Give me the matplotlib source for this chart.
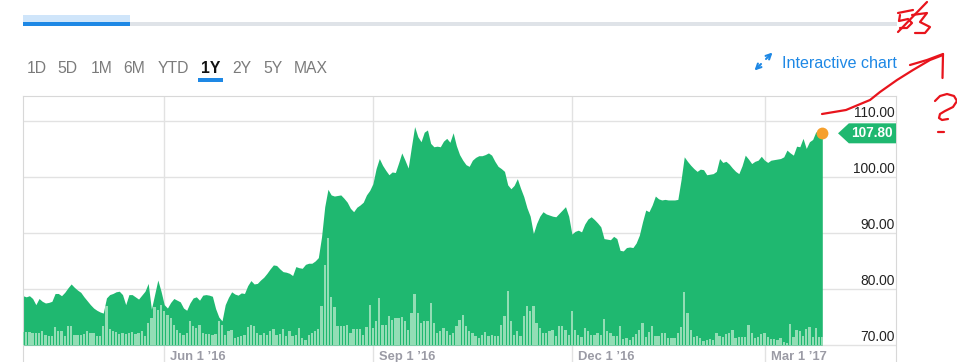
import matplotlib
matplotlib.use("Agg")
import matplotlib.pyplot as plt
from matplotlib.patches import Polygon, Rectangle, FancyArrowPatch
from matplotlib.lines import Line2D
from matplotlib.transforms import blended_transform_factory, ScaledTranslation

# daily close, one value per trading day (Mar 2016 -> Mar 2017)
price = [
    78.8, 78.6, 78.8, 78.3, 77.2, 78.3, 77.8, 77.5, 77.6, 77.8,
    79.2, 79.2, 78.8, 79.4, 80.2, 80.9, 80.3, 79.8, 79.4, 78.6,
    77.9, 77.2, 76.6, 76.2, 75.9, 75.7, 78.4, 79.0, 79.2, 79.5,
    79.6, 79.0, 77.2, 79.0, 79.0, 78.6, 78.2, 78.9, 79.6, 81.0,
    76.4, 79.0, 81.6, 79.6, 77.2, 76.6, 77.6, 78.3, 78.0, 77.7,
    76.6, 76.2, 77.5, 78.4, 78.6, 78.0, 78.9, 79.0, 78.9, 78.7,
    76.5, 75.0, 74.3, 77.2, 78.5, 79.5, 79.1, 78.9, 79.3, 79.2,
    80.6, 81.5, 80.9, 81.0, 81.6, 82.1, 82.8, 83.6, 84.3, 84.2,
    83.6, 83.1, 83.0, 82.8, 82.4, 84.0, 83.8, 83.7, 84.4, 84.6,
    84.6, 85.0, 85.6, 89.3, 94.7, 97.8, 96.8, 96.6, 96.7, 96.8,
    96.2, 95.5, 94.4, 93.8, 94.6, 95.0, 95.5, 96.8, 97.6, 98.8,
    101.5, 103.3, 102.1, 101.2, 100.4, 100.9, 100.8, 102.5, 104.3, 103.0,
    101.6, 105.4, 109.0, 107.2, 106.3, 108.0, 108.4, 106.0, 105.4, 105.5,
    105.4, 106.4, 106.9, 106.2, 107.9, 105.6, 104.0, 103.0, 102.2, 101.9,
    103.0, 103.5, 103.8, 103.8, 104.0, 104.3, 103.9, 102.8, 101.9, 101.5,
    101.0, 98.6, 97.9, 98.5, 99.7, 98.0, 96.5, 94.5, 93.0, 89.9,
    91.7, 93.0, 93.8, 93.4, 93.2, 93.0, 92.9, 93.5, 94.1, 94.7,
    93.0, 89.8, 90.3, 90.5, 90.2, 91.6, 92.5, 92.9, 92.4, 91.8,
    91.1, 89.0, 88.9, 88.8, 89.4, 89.0, 86.9, 86.8, 87.4, 87.5,
    87.4, 88.2, 89.6, 92.0, 94.1, 93.8, 95.0, 96.6, 96.1, 95.9,
    96.0, 95.9, 95.9, 95.9, 96.0, 99.5, 103.6, 102.8, 102.1, 101.5,
    101.0, 101.4, 101.3, 100.4, 100.5, 100.6, 101.0, 103.3, 102.6, 102.8,
    102.3, 101.6, 101.0, 100.6, 102.0, 103.9, 103.2, 102.4, 102.8, 103.0,
    103.7, 103.0, 102.6, 103.0, 103.1, 103.2, 103.3, 103.6, 104.8, 104.3,
    103.9, 105.5, 105.4, 106.9, 105.1, 106.3, 106.7, 108.1, 107.5, 107.8,
]

# daily volume, millions of shares
volume_m = [
    1.27, 1.27, 1.27, 1.20, 1.20, 1.20, 1.37, 1.00, 0.90, 0.90,
    1.77, 1.45, 1.40, 0.87, 1.93, 1.93, 1.00, 1.00, 1.05, 1.10,
    1.37, 1.20, 1.20, 0.93, 0.93, 1.87, 3.93, 1.60, 1.37, 1.30,
    1.10, 1.25, 1.10, 1.25, 1.30, 1.15, 1.20, 1.37, 0.87, 2.20,
    2.70, 3.80, 3.50, 4.00, 3.40, 3.00, 2.70, 2.00, 1.50, 1.20,
    1.00, 1.20, 2.40, 1.90, 1.70, 2.00, 1.20, 1.10, 1.10, 1.05,
    1.10, 2.40, 2.00, 1.00, 1.37, 1.47, 0.70, 0.80, 0.87, 1.00,
    1.80, 2.00, 1.87, 1.20, 1.00, 1.20, 1.00, 1.37, 1.60, 1.00,
    1.10, 1.60, 0.87, 1.37, 0.87, 1.00, 1.70, 0.70, 0.53, 1.00,
    1.20, 1.37, 1.60, 3.90, 8.00, 10.70, 4.80, 3.80, 1.90, 1.90,
    1.90, 2.00, 1.20, 1.60, 1.60, 1.60, 1.00, 1.80, 4.00, 1.70,
    2.40, 4.70, 2.00, 2.00, 2.90, 2.50, 2.70, 2.70, 2.80, 2.40,
    1.50, 3.20, 5.10, 3.20, 2.20, 2.40, 2.40, 4.20, 2.20, 1.20,
    1.40, 1.70, 1.40, 1.00, 1.20, 1.90, 2.50, 3.00, 1.90, 1.40,
    1.20, 0.90, 0.70, 1.00, 1.30, 0.90, 1.00, 0.90, 0.90, 2.00,
    2.90, 5.40, 2.40, 1.00, 1.40, 0.90, 2.90, 3.90, 3.40, 3.90,
    2.20, 1.70, 1.20, 1.20, 1.40, 1.50, 0.90, 1.90, 1.90, 1.50,
    1.00, 3.40, 1.50, 1.00, 0.80, 1.70, 1.40, 1.00, 1.00, 1.20,
    1.00, 2.60, 1.40, 1.20, 0.90, 0.90, 1.90, 0.60, 0.70, 0.50,
    0.80, 1.10, 1.50, 2.20, 0.80, 1.30, 1.90, 0.90, 0.90, 1.20,
    1.20, 0.70, 0.70, 0.70, 1.20, 1.80, 5.30, 3.20, 1.50, 0.80,
    0.90, 0.70, 0.40, 0.50, 0.60, 0.50, 1.20, 0.90, 0.80, 1.10,
    1.20, 1.50, 0.70, 0.80, 0.80, 0.80, 2.00, 1.20, 0.70, 0.80,
    1.10, 1.20, 0.80, 0.60, 0.60, 0.50, 0.70, 0.30, 0.20, 2.10,
    0.80, 1.50, 1.40, 0.90, 1.60, 1.80, 0.80, 1.70, 0.80, 0.80,
]

tick_days = [44, 109, 171, 231]
tick_labels = ["Jun 1 \u201916", "Sep 1 \u201916", "Dec 1 \u201916", "Mar 1 \u201917"]
price_levels = [70, 80, 90, 100, 110]
ranges = ["1D", "5D", "1M", "6M", "YTD", "1Y", "2Y", "5Y", "MAX"]
selected = "1Y"

W, H = 957, 362
GREEN = "#1fb870"
BAR = "#93ddb5"
BLUE = "#1e88e5"
RED = "#e8141c"

plt.rcParams["font.family"] = ["Liberation Sans", "DejaVu Sans"]
fig = plt.figure(figsize=(W / 100, H / 100), dpi=100)

def fx(px):
    return px / W

def fy(py):
    return 1 - py / H

# ---- header: progress bar, range buttons, link ----
fig.add_artist(Rectangle((fx(23), fy(25.7)), fx(897) - fx(23), 3.4 / H,
                         transform=fig.transFigure, color="#dfe3e8", lw=0))
fig.add_artist(Rectangle((fx(23), fy(22.3)), fx(130) - fx(23), 7.3 / H,
                         transform=fig.transFigure, color="#cfe5fa", lw=0))
fig.add_artist(Rectangle((fx(23), fy(25.7)), fx(130) - fx(23), 3.4 / H,
                         transform=fig.transFigure, color=BLUE, lw=0))

range_x = [26.5, 57.5, 90.5, 123.5, 157.5, 201, 232, 263.5, 294]
for lab, x in zip(ranges, range_x):
    if lab == selected:
        fig.text(fx(x), fy(72.7), lab, fontsize=11.3, fontweight="bold",
                 color="#111111", va="baseline")
    else:
        fig.text(fx(x), fy(72.7), lab, fontsize=11.3, color="#7b7b7b", va="baseline")
fig.add_artist(Rectangle((fx(198), fy(81.7)), fx(223) - fx(198), 3.4 / H,
                         transform=fig.transFigure, color=BLUE, lw=0))

fig.text(fx(781.5), fy(68.3), "Interactive chart", fontsize=11.6, color=BLUE,
         va="baseline")
for a, b in [((761, 64), (754.5, 70.5)), ((766, 59), (772.5, 52.5))]:
    fig.add_artist(FancyArrowPatch((fx(a[0]), fy(a[1])), (fx(b[0]), fy(b[1])),
                                   transform=fig.transFigure, arrowstyle="->",
                                   mutation_scale=9, color=BLUE, lw=1.5,
                                   shrinkA=0, shrinkB=0))

# ---- chart ----
ax = fig.add_axes([fx(23), 0, fx(896) - fx(23), (H - 96) / H])
days = list(range(len(price)))
px_per_day = 3.21
ax.set_xlim(0, (896 - 23) / px_per_day)
ax.set_ylim(70 - 17 / 5.6, 70 + 249 / 5.6)

ax.fill_between(days, price, 70, color=GREEN, lw=0, zorder=2)
ax.set_xticks(tick_days)
ax.set_yticks(price_levels)
ax.tick_params(length=0, labelbottom=False, labelleft=False)
ax.set_axisbelow(True)
ax.grid(color="#e2e2e2", lw=1)
for s in ["left", "right", "top"]:
    ax.spines[s].set_color("#d8d8d8")
ax.spines["bottom"].set_visible(False)

ytrans = blended_transform_factory(ax.transAxes, ax.transData)
for v in price_levels:
    ax.text(1.0, v, f"{v:.2f}", transform=ytrans + ScaledTranslation(-0.015, 0.044, fig.dpi_scale_trans),
            ha="right", va="baseline", fontsize=9.9, color="#222222")

xtrans = blended_transform_factory(ax.transData, ax.transAxes)
for d, lab in zip(tick_days, tick_labels):
    ax.text(d, 2 / (H - 96), lab, transform=xtrans + ScaledTranslation(0.06, 0, fig.dpi_scale_trans),
            ha="left", va="baseline", fontsize=9.4, fontweight="bold", color="#9b9ba5")

# volume bars on their own scale
ax2 = ax.twinx()
ax2.bar(days, volume_m, width=0.72, color=BAR, lw=0, zorder=3)
ax2.set_ylim(-1.7, 24.9)
ax2.set_yticks([])
for s in ax2.spines.values():
    s.set_visible(False)

# last price marker and tag
last = price[-1]
ax.plot(days[-1], last, "o", color="#f6a02d", ms=8.5, mec="none", zorder=6, clip_on=False)
h = 10 / 5.6
tag = Polygon([(0.9336, last), (0.946, last + h), (1.0, last + h),
               (1.0, last - h), (0.946, last - h)],
              closed=True, transform=ytrans, color=GREEN, lw=0, zorder=6)
ax.add_patch(tag)
ax.text(0.9725, last, f"{last:.2f}", transform=ytrans, ha="center", va="center",
        fontsize=9.8, fontweight="bold", color="white", zorder=7)

# ---- red pen notes ----
strokes = [
    [(898, 13), (913, 10)],
    [(900, 15), (899, 21), (908, 19), (912, 23), (907, 28), (900, 28)],
    [(898, 32), (927, 2)],
    [(912, 15), (927, 13), (920, 22), (930, 27), (925, 33), (915, 33)],
    [(822, 114), (846, 110), (870, 100), (880, 92), (897, 80), (913, 70), (930, 60), (943, 55)],
    [(910, 65), (927, 60), (943, 54)],
    [(943, 54), (942.5, 78)],
    [(935, 101), (940, 96), (947, 94), (954, 96), (957, 101), (953, 107),
     (945, 111), (940, 114), (939, 118), (942, 120), (948, 119)],
    [(938, 132), (944, 132)],
]
for st in strokes:
    xs = [fx(p[0]) for p in st]
    ys = [fy(p[1]) for p in st]
    fig.add_artist(Line2D(xs, ys, transform=fig.transFigure, color=RED, lw=1.6,
                          solid_capstyle="round", solid_joinstyle="round"))

fig.savefig("out.png", dpi=100)
